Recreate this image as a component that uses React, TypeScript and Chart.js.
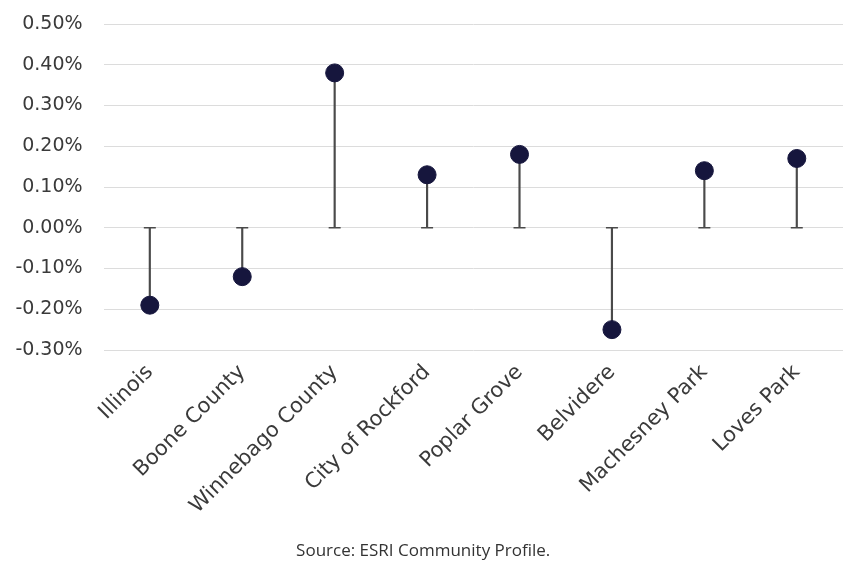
import React, { useEffect, useRef } from "react";
import { Chart, registerables } from "chart.js";

Chart.register(...registerables);

const categories: string[] = [
  "Illinois",
  "Boone County",
  "Winnebago County",
  "City of Rockford",
  "Poplar Grove",
  "Belvidere",
  "Machesney Park",
  "Loves Park",
];

// Percent change values (in %)
const changeValues: number[] = [-0.19, -0.12, 0.38, 0.13, 0.18, -0.25, 0.14, 0.17];

const yMin = -0.3;
const yMax = 0.5;
const yStep = 0.1;

const sourceText = "Source: ESRI Community Profile.";

export default function App() {
  const canvasRef = useRef<HTMLCanvasElement | null>(null);

  useEffect(() => {
    if (!canvasRef.current) return;
    const chart = new Chart(canvasRef.current, {
      type: "bar",
      data: {
        labels: categories,
        datasets: [
          {
            type: "line",
            label: "Value",
            data: changeValues,
            showLine: false,
            pointRadius: 9,
            pointHoverRadius: 9,
            pointBackgroundColor: "#16163d",
            pointBorderColor: "#16163d",
            pointBorderWidth: 1,
            order: 0,
          } as any,
          {
            type: "line",
            label: "Base",
            data: changeValues.map(() => 0),
            showLine: false,
            pointStyle: "line",
            pointRadius: 6,
            pointHoverRadius: 6,
            pointBorderColor: "#4a4a4a",
            pointBorderWidth: 1.5,
            order: 1,
          } as any,
          {
            type: "bar",
            label: "Stem",
            data: changeValues.map((v) => [0, v]),
            backgroundColor: "#4a4a4a",
            barThickness: 1.5,
            order: 2,
          } as any,
        ],
      },
      options: {
        responsive: false,
        animation: false,
        devicePixelRatio: 1,
        layout: { padding: { top: 24, right: 6.6, bottom: 3, left: 0 } },
        plugins: {
          legend: { display: false },
          tooltip: { enabled: false },
          title: {
            display: true,
            text: sourceText,
            position: "bottom",
            color: "#333333",
            font: { family: "'Open Sans'", size: 17, weight: "normal" },
            padding: { top: 0, bottom: 0 },
          },
        },
        scales: {
          x: {
            grid: { display: false, drawTicks: false },
            border: { display: false },
            ticks: {
              color: "#3a3a3a",
              font: { family: "'DejaVu Sans'", size: 21 },
              maxRotation: 45,
              minRotation: 45,
              autoSkip: false,
              padding: 10,
            },
            afterFit: (scale: any) => {
              scale.height = 190.6;
              scale.paddingLeft = 0;
              scale.paddingRight = 0;
              scale.paddingTop = 0;
              scale.paddingBottom = 0;
            },
          },
          y: {
            min: yMin,
            max: yMax,
            grid: { color: "#dcdcdc", lineWidth: 1, drawTicks: false },
            border: { display: false },
            ticks: {
              stepSize: yStep,
              color: "#3a3a3a",
              font: { family: "'DejaVu Sans'", size: 19 },
              padding: 21,
              callback: (v: any) => Number(v).toFixed(2) + "%",
            },
            afterFit: (scale: any) => {
              scale.width = 103.6;
              scale.paddingTop = 0;
              scale.paddingBottom = 0;
              scale.paddingLeft = 0;
              scale.paddingRight = 0;
            },
          },
        },
      },
    });
    return () => chart.destroy();
  }, []);

  return (
    <div style={{ position: "fixed", left: 0, top: 0, width: 853, height: 564, background: "#ffffff" }}>
      <canvas ref={canvasRef} width={853} height={564} />
    </div>
  );
}
